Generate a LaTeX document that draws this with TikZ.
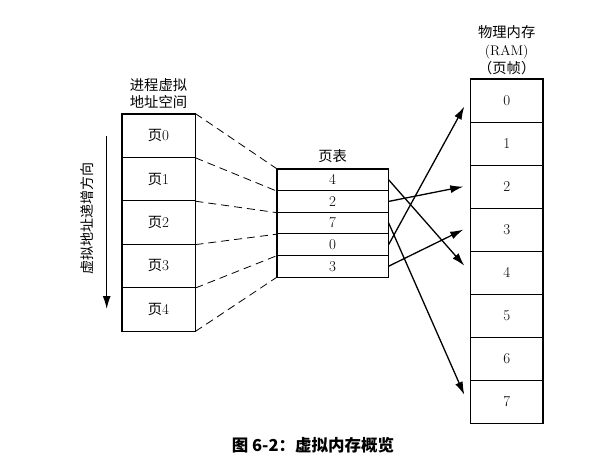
\documentclass[tikz,border=0pt]{standalone}
\usepackage{fontspec}
\newfontfamily\cjk{Noto Sans CJK SC}
\usetikzlibrary{arrows.meta}
\newcommand\zh[1]{{\cjk\fontsize{14.3}{17}\selectfont #1}}
\tikzset{
  cell/.style={draw, line width=0.8pt, inner sep=0pt, font=\fontsize{15}{18}\selectfont},
  vcell/.style={cell, minimum width=73pt, minimum height=43.4pt},
  pcell/.style={cell, minimum width=111.3pt, minimum height=21.6pt},
  rcell/.style={cell, minimum width=72pt, minimum height=43.04pt},
  frame/.style={line width=1.5pt},
  dashline/.style={line width=0.8pt, dash pattern=on 8pt off 5pt},
  maparrow/.style={line width=1.3pt, -{Latex[length=13pt,width=8pt]}},
  title/.style={align=center, inner sep=0pt, font=\cjk\fontsize{14.3}{16.7}\selectfont},
}
\begin{document}
\begin{tikzpicture}[x=1pt,y=-1pt]
\useasboundingbox[fill=white] (0,0) rectangle (595,472);
% virtual address space
\node[title] (vt) at (158.5,93.4) {进程虚拟\\地址空间};
\foreach \i/\y in {0/135.7,1/179.1,2/222.5,3/265.9,4/309.3}
  \node[vcell] (v\i) at (158.5,\y) {\zh{页}\i};
\draw[frame] (v0.north west) rectangle (v4.south east);
% direction arrow
\coordinate (as) at (106.7,136);
\coordinate (ae) at (106.7,309);
\draw[line width=1.3pt, -{Latex[length=13pt,width=8pt]}] (as) -- (ae);
\node[rotate=90, inner sep=0pt, font=\cjk\fontsize{14}{16}\selectfont] (dir) at (87,218) {虚拟地址递增方向};
% page table
\node[title] (pt) at (332.6,156) {页表};
\foreach \i/\y/\v in {0/179.8/4,1/201.4/2,2/223/7,3/244.6/0,4/266.2/3}
  \node[pcell] (p\i) at (332.6,\y) {\v};
\draw[frame] (p0.north west) rectangle (p4.south east);
% dashed mapping lines
\draw[dashline] (v0.north east) -- (p0.north west);
\foreach \i in {0,...,4}
  \draw[dashline] (v\i.south east) -- (p\i.south west);
% physical memory
\node[title, font=\fontsize{14}{18.3}\selectfont] (rt) at (506.7,50) {\zh{物理内存}\\(RAM)\\\zh{（页帧）}};
\foreach \i/\y in {0/100.5,1/143.6,2/186.6,3/229.6,4/272.7,5/315.7,6/358.8,7/401.8}
  \node[rcell] (r\i) at (506.7,\y) {\i};
\draw[frame] (r0.north west) rectangle (r7.south east);
% mapping arrows
\draw[maparrow] (p0.east) -- ([xshift=-6pt,yshift=7pt]r4.west);
\draw[maparrow] (p1.east) -- ([xshift=-7pt]r2.west);
\draw[maparrow] (p2.east) -- ([xshift=-6pt,yshift=7pt]r7.west);
\draw[maparrow] (p3.east) -- ([xshift=-6pt,yshift=-6pt]r0.west);
\draw[maparrow] (p4.east) -- ([xshift=-7pt]r3.west);
% caption
\node[inner sep=0pt, font=\cjk\bfseries\fontsize{16.5}{20}\selectfont] (cap) at (313,445) {图 6-2：虚拟内存概览};
\end{tikzpicture}
\end{document}
